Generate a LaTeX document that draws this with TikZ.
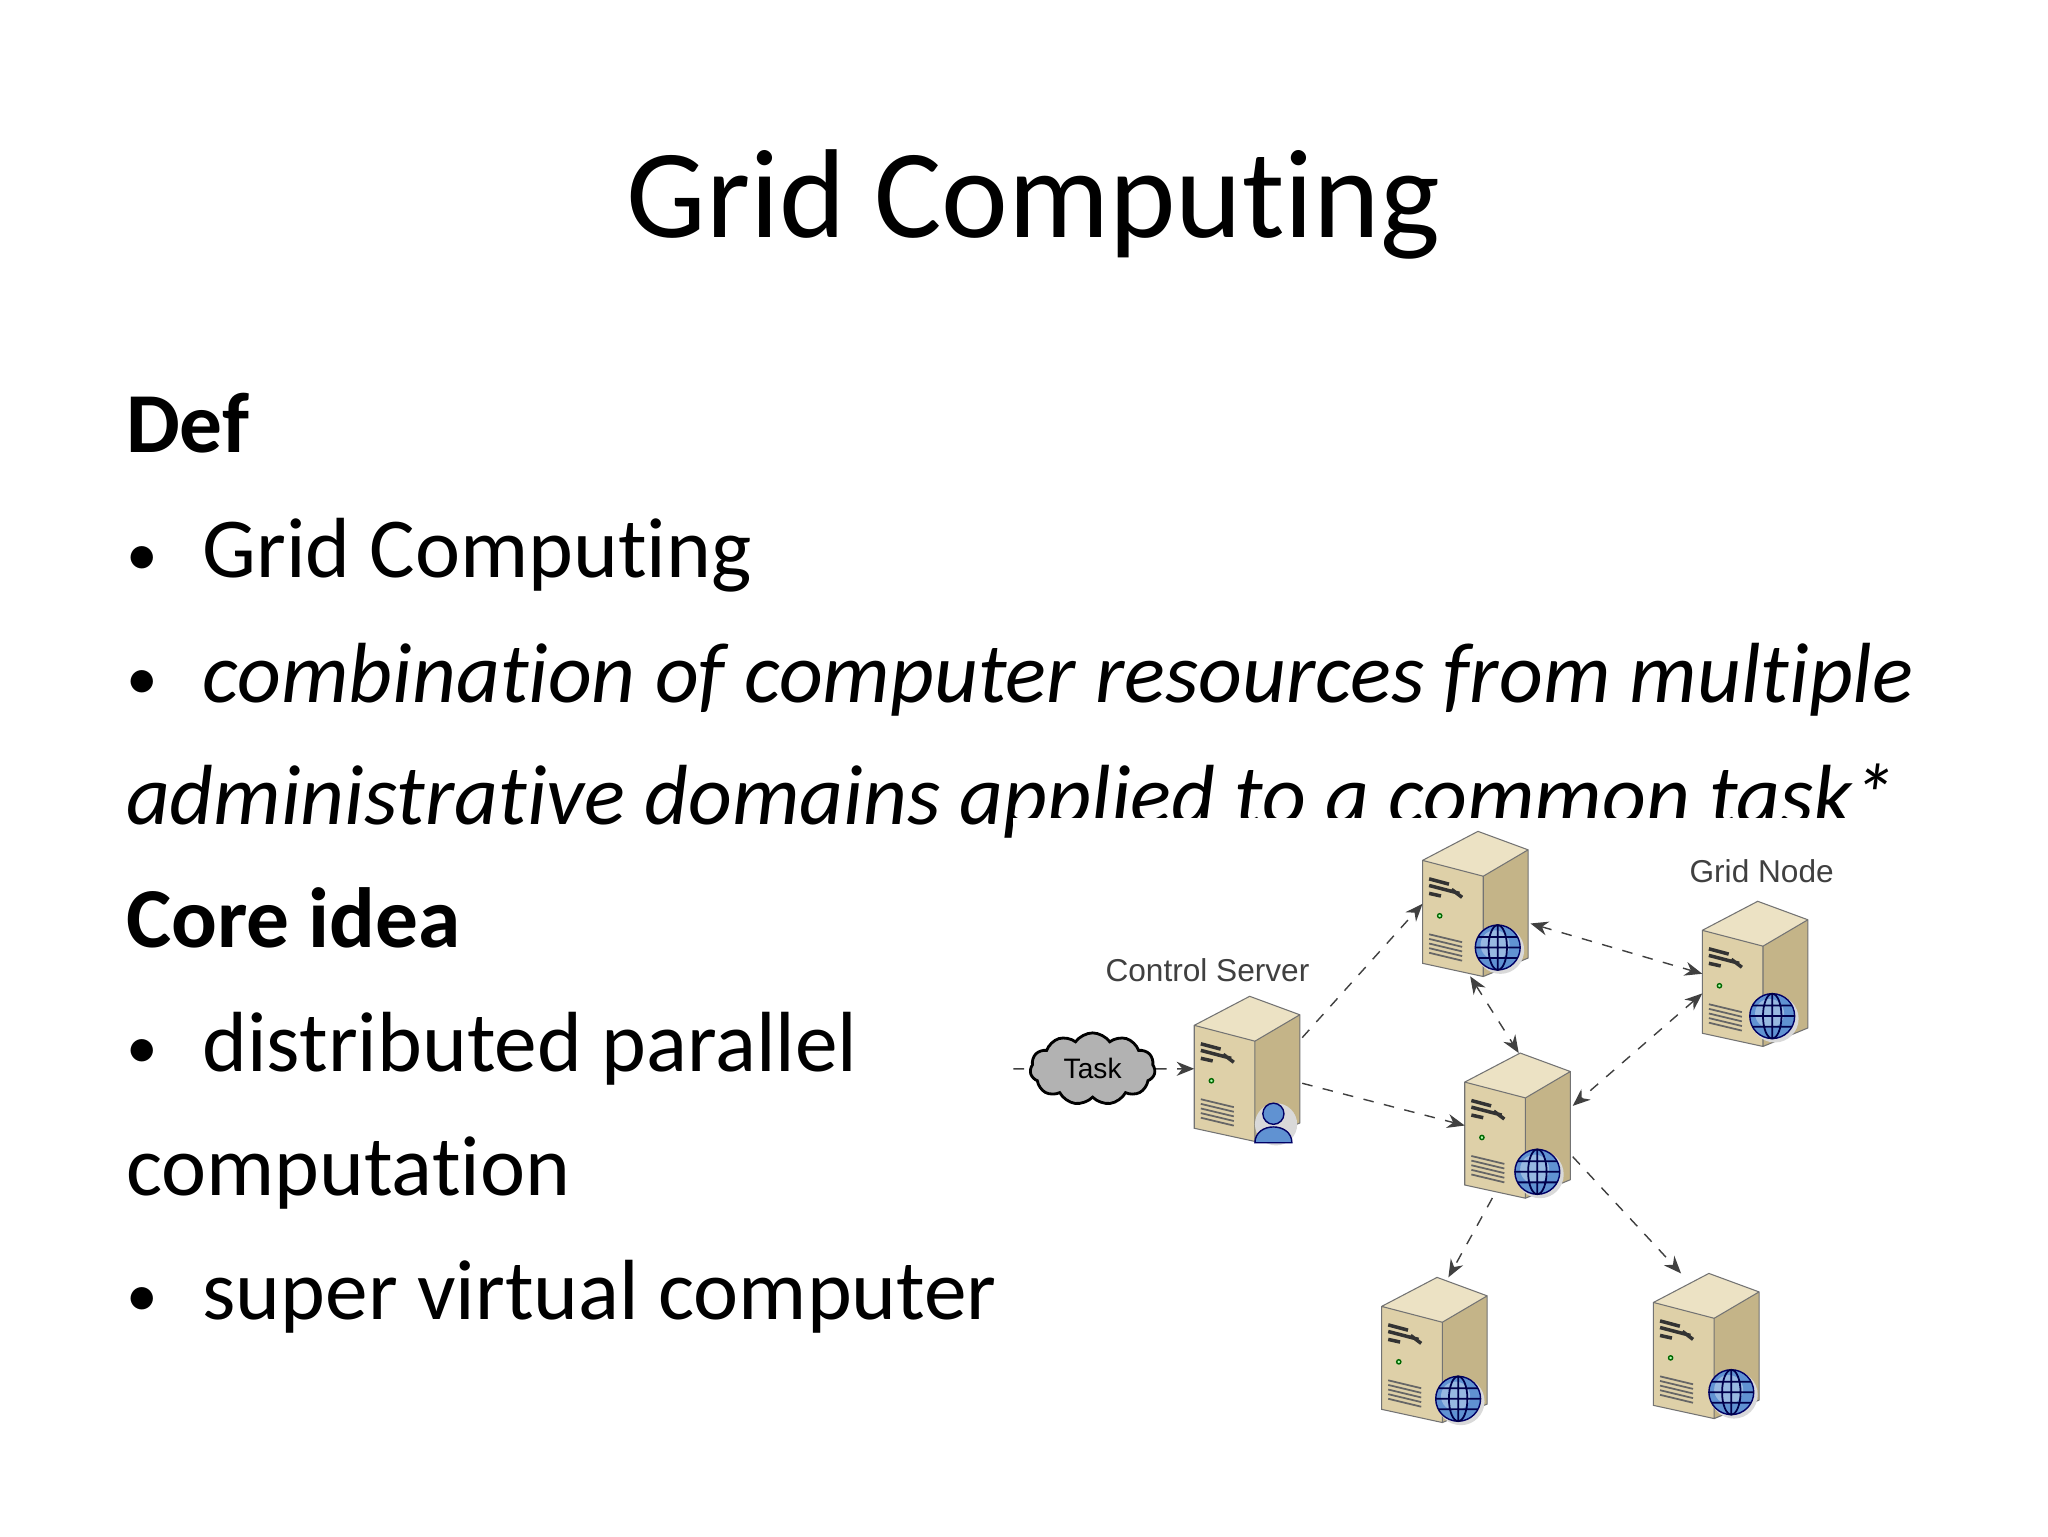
\documentclass[tikz,border=0pt]{standalone}
\usepackage{fontspec}
\setmainfont{Carlito}[RawFeature=-liga]
\newfontfamily\arialf{Liberation Sans}
\usetikzlibrary{shapes.symbols,arrows.meta}
\definecolor{stop}{RGB}{236,226,196}
\definecolor{sfront}{RGB}{222,208,168}
\definecolor{sside}{RGB}{196,180,136}
\definecolor{gblue}{RGB}{96,146,210}
\tikzset{
 body/.style={anchor=base west,inner sep=0,font=\fontsize{24.3}{30}\selectfont},
 bul/.style={anchor=base west,inner sep=0,font=\fontsize{18}{20}\selectfont},
 srv/.style={rectangle,anchor=north west,minimum width=1.08cm,minimum height=1.45cm,inner sep=0,outer sep=0},
 conn/.style={dashed,thin,black!75,-{Stealth[length=5pt,width=4pt]}},
 conn2/.style={dashed,thin,black!75,{Stealth[length=5pt,width=4pt]}-{Stealth[length=5pt,width=4pt]}},
 lbl/.style={font=\arialf\fontsize{9}{10}\selectfont,text=black!75},
 server/.pic={
  \fill[stop] (0,22)--(42,0)--(80,14)--(46,34)--cycle;
  \fill[sfront] (0,22)--(46,34)--(46,110)--(0,100)--cycle;
  \fill[sside] (46,34)--(80,14)--(80,96)--(46,110)--cycle;
  \draw[black!55,line width=0.3pt] (0,22)--(42,0)--(80,14)--(80,96)--(46,110)--(0,100)--cycle (0,22)--(46,34)--(80,14) (46,34)--(46,110);
  \draw[black!80,line width=1pt] (5,36)--(20,40) (5,41)--(28,47) (22,44)--(30,50) (5,47)--(14,49);
  \draw[green!40!black,fill=green!30] (13,64) circle (1.6);
  \foreach \i in {0,...,4}{\draw[black!60,line width=0.5pt] (5,78+3.5*\i)--(30,84+3.5*\i);}
 },
 globe/.pic={
  \fill[black!15] (2,2) circle (18);
  \draw[blue!40!black,fill=gblue] (0,0) circle (17);
  \fill[white,opacity=0.35] (-2,-2) circle (11);
  \draw[blue!30!black,line width=0.5pt] (0,0) ellipse (7 and 17) (0,-17)--(0,17) (-17,0)--(17,0) (-15,-8)--(15,-8) (-15,8)--(15,8);
 },
 user/.pic={
  \fill[black!15] (2,2) circle (16);
  \draw[blue!40!black,fill=gblue] (-14,16) .. controls (-14,0) and (14,0) .. (14,16) -- cycle;
  \draw[blue!40!black,fill=gblue] (0,-6) circle (8);
 }
}
\begin{document}
\begin{tikzpicture}[x=0.0132cm,y=-0.0132cm]
\useasboundingbox (0,0) rectangle (1552,1164);
\fill[white] (0,0) rectangle (1552,1164);
\node[font=\fontsize{36}{44}\selectfont,anchor=base,inner sep=0] (title) at (783,180) {Grid Computing};
\node[body,font=\bfseries\fontsize{24.3}{30}\selectfont] (def) at (95,343) {Def};
\node[bul] (b1d) at (95,436) {•};
\node[body] (b1) at (153,438) {Grid Computing};
\node[bul] (b2d) at (95,530) {•};
\node[body,font=\itshape\fontsize{24.3}{30}\selectfont] (b2) at (153,532) {combination of computer resources from multiple};
\node[body,font=\itshape\fontsize{24.3}{30}\selectfont] (b2b) at (95,625) {administrative domains applied to a common task*};
% picture background covering text
\fill[white] (768,620) rectangle (1552,1164);
\node[body,font=\bfseries\fontsize{24.3}{30}\selectfont] (core) at (95,718) {Core idea};
\node[bul] (b3d) at (95,810) {•};
\node[body] (b3) at (153,812) {distributed parallel};
\node[body] (b3b) at (95,906) {computation};
\node[bul] (b4d) at (95,998) {•};
\node[body] (b4) at (153,1000) {super virtual computer};
% servers
\node[srv] (top) at (1078,630) {}; \pic at (top.north west) {server}; \pic at (1135,718) {globe};
\node[srv] (grid) at (1290,683) {}; \pic at (grid.north west) {server}; \pic at (1343,770) {globe};
\node[srv] (ctrl) at (905,755) {}; \pic at (ctrl.north west) {server}; \pic at (965,850) {user};
\node[srv] (mid) at (1110,798) {}; \pic at (mid.north west) {server}; \pic at (1165,888) {globe};
\node[srv] (bl) at (1047,968) {}; \pic at (bl.north west) {server}; \pic at (1105,1060) {globe};
\node[srv] (br) at (1253,965) {}; \pic at (br.north west) {server}; \pic at (1312,1055) {globe};
\node[lbl] (lc) at (915,735) {Control Server};
\node[lbl] (lg) at (1335,660) {Grid Node};
\node[cloud,cloud puffs=11,cloud puff arc=110,aspect=1.8,draw=black,line width=0.8pt,fill=black!30,minimum width=1.25cm,minimum height=0.72cm,inner sep=0,font=\arialf\fontsize{8}{9}\selectfont] (task) at (828,810) {Task};
\coordinate (tin) at (768,810);
\draw[dashed,thin,black!75] (tin) -- (task);
\draw[conn] (task) -- (ctrl.west);
\draw[conn] (ctrl.30) -- (top.west);
\draw[conn] (ctrl.-15) -- (mid.west);
\draw[conn2] (top.-20) -- (grid.west);
\draw[conn2] (top.-95) -- (mid.north);
\draw[conn2] (grid.-160) -- (mid.20);
\draw[conn] (mid.-110) -- (bl.80);
\draw[conn] (mid.-30) -- (br.110);
\end{tikzpicture}
\end{document}
